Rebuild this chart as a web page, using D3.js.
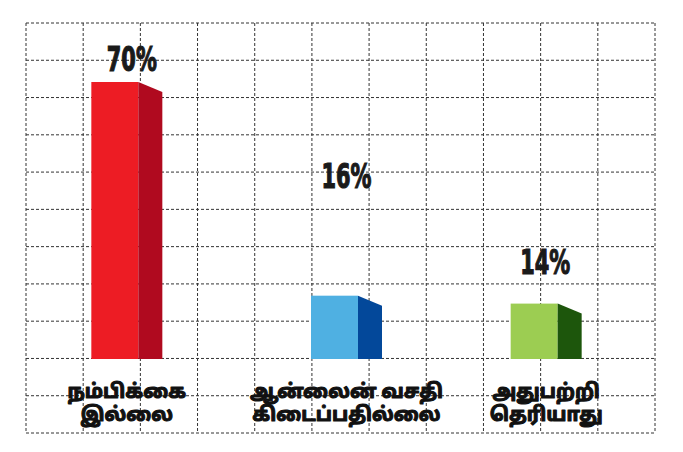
<!DOCTYPE html>
<html lang="ta">
<head>
  <meta charset="UTF-8">
  <title>Survey bars</title>
  <script src="https://d3js.org/d3.v7.min.js"></script>
  <style>
    body { margin: 0; background: #fff; }
    .grid line { stroke: #333; stroke-width: 1; stroke-dasharray: 3 2; }
    .value { font-family: "DejaVu Sans Condensed", "DejaVu Sans", sans-serif; font-weight: bold; fill: #1a1a1a; stroke: #1a1a1a; stroke-width: 1.2; }
    .cat { font-family: "Noto Sans Tamil", "Lohit Tamil", sans-serif; font-weight: bold; fill: #111; stroke: #111; stroke-width: 1.1; stroke-linejoin: round; }
  </style>
</head>
<body>
  <svg id="chart" width="683" height="452"></svg>
  <script>
    // data
    const categories = ['நம்பிக்கை இல்லை', 'ஆன்லைன் வசதி கிடைப்பதில்லை', 'அதுபற்றி தெரியாது'];
    const catLines = [['நம்பிக்கை', 'இல்லை'], ['ஆன்லைன் வசதி', 'கிடைப்பதில்லை'], ['அதுபற்றி', 'தெரியாது']];
    const values = [70, 16, 14];
    const valueLabels = ['70%', '16%', '14%'];

    // layout / style
    const frontColors = ['#ed1c24', '#4fb0e2', '#9ccd52'];
    const sideColors = ['#b00a1f', '#03489a', '#1d560c'];
    const labelLift = [11, 108, 30]; // gap from bar top to value label baseline
    const labelNudge = [5, 0, -1];   // horizontal nudge of value labels
    const catShift = [-4, 6, -4];    // small nudge of each bar group
    const gridLeft = 26, gridRight = 655, gridTop = 23, gridBottom = 433;
    const nCols = 11, nRows = 11;
    const baseY = 359;

    const svg = d3.select('#chart');

    // dashed grid
    const grid = svg.append('g').attr('class', 'grid');
    const gx = d3.scaleLinear().domain([0, nCols]).range([gridLeft, gridRight]);
    const gy = d3.scaleLinear().domain([0, nRows]).range([gridTop, gridBottom]);
    grid.selectAll('.v').data(d3.range(nCols + 1)).enter().append('line')
      .attr('x1', d => gx(d)).attr('x2', d => gx(d))
      .attr('y1', gridTop).attr('y2', gridBottom);
    grid.selectAll('.h').data(d3.range(nRows + 1)).enter().append('line')
      .attr('x1', gridLeft).attr('x2', gridRight)
      .attr('y1', d => gy(d)).attr('y2', d => gy(d));

    const x = d3.scaleBand().domain(categories).range([gridLeft, gridRight]);
    const y = d3.scaleLinear().domain([0, 70]).range([baseY, 82]);

    const frontW = 47, sideW = 24, drop = 10;

    const bars = svg.append('g').selectAll('g').data(values).enter().append('g');

    const left = (d, i) => x(categories[i]) + x.bandwidth() / 2 - (frontW + sideW) / 2 + catShift[i];

    bars.append('rect')
      .attr('x', left)
      .attr('y', d => y(d))
      .attr('width', frontW)
      .attr('height', d => baseY - y(d))
      .attr('fill', (d, i) => frontColors[i]);

    bars.append('path')
      .attr('d', (d, i) => {
        const x0 = left(d, i) + frontW, x1 = x0 + sideW;
        return `M${x0},${y(d)}L${x1},${y(d) + drop}L${x1},${baseY}L${x0},${baseY}Z`;
      })
      .attr('fill', (d, i) => sideColors[i]);

    // value labels
    bars.append('text')
      .attr('class', 'value')
      .attr('x', (d, i) => left(d, i) + (frontW + sideW) / 2 + labelNudge[i])
      .attr('y', (d, i) => y(d) - labelLift[i])
      .attr('text-anchor', 'middle')
      .attr('font-size', 34)
      .attr('textLength', 50)
      .attr('lengthAdjust', 'spacingAndGlyphs')
      .text((d, i) => valueLabels[i]);

    // category labels
    const cat = svg.append('g').selectAll('text').data(categories).enter().append('text')
      .attr('class', 'cat')
      .attr('text-anchor', 'middle')
      .attr('font-size', 19.5)
      .attr('x', (d, i) => x(d) + x.bandwidth() / 2 + catShift[i]);
    cat.selectAll('tspan').data((d, i) => catLines[i]).enter().append('tspan')
      .attr('x', function () { return d3.select(this.parentNode).attr('x'); })
      .attr('y', (d, j) => 398 + j * 23)
      .text(d => d);
  </script>
</body>
</html>
